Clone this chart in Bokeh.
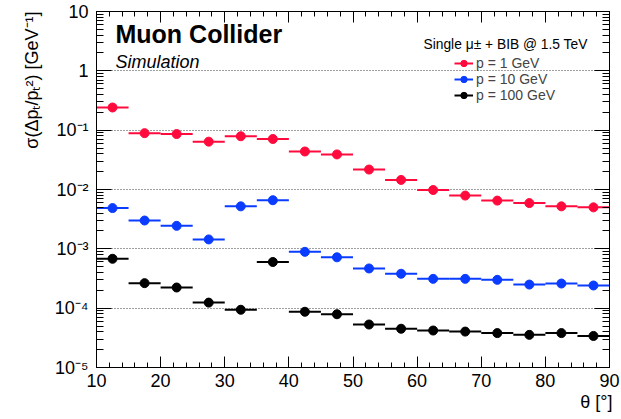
from bokeh.plotting import figure
from bokeh.models import (FixedTicker, LinearAxis, LogAxis, Label, Legend, LegendItem, Title,
                          ColumnDataSource, Range1d, CustomJSTickFormatter)
from bokeh.embed import file_html
from bokeh.resources import INLINE

# ---------------- data ----------------
theta = [12.5, 17.5, 22.5, 27.5, 32.5, 37.5, 42.5, 47.5,
         52.5, 57.5, 62.5, 67.5, 72.5, 77.5, 82.5, 87.5]
theta_half_width = 2.5

sigma_p1 = [0.241, 0.089, 0.086, 0.064, 0.079, 0.071, 0.0437, 0.039,
            0.0217, 0.0145, 0.0098, 0.0079, 0.0065, 0.0059, 0.0052, 0.0050]
sigma_p10 = [4.86e-3, 3.0e-3, 2.44e-3, 1.44e-3, 5.2e-3, 6.6e-3, 8.9e-4, 7.2e-4,
             4.67e-4, 3.8e-4, 3.12e-4, 3.12e-4, 3.0e-4, 2.5e-4, 2.6e-4, 2.41e-4]
sigma_p100 = [6.8e-4, 2.64e-4, 2.23e-4, 1.24e-4, 9.4e-5, 6.0e-4, 8.7e-5, 7.9e-5,
              5.3e-5, 4.5e-5, 4.2e-5, 4.03e-5, 3.8e-5, 3.55e-5, 3.8e-5, 3.4e-5]

series_labels = ["p = 1 GeV", "p = 10 GeV", "p = 100 GeV"]
series_colors = ["#ff0a3c", "#0a3cff", "#000000"]

x_ticks = [10, 20, 30, 40, 50, 60, 70, 80, 90]
x_minor_ticks = [v for v in range(10, 91, 2) if v % 10 != 0]
y_tick_exps = [-5, -4, -3, -2, -1, 0, 1]
y_tick_labels = ["10\u207b\u2075", "10\u207b\u2074", "10\u207b\u00b3", "10\u207b\u00b2",
                 "10\u207b\u00b9", "1", "10"]

x_title = "\u03b8 [\u00b0]"
y_title = "\u03c3(\u0394p\u209c/p\u209c\u00b2) [GeV\u207b\u00b9]"

FONT = "Liberation Sans"

# ---------------- figure ----------------
p = figure(width=621, height=419, y_axis_type="log",
           x_range=Range1d(10, 90), y_range=Range1d(1e-5, 10),
           output_backend="svg", toolbar_location=None,
           min_border_left=96, min_border_right=12, min_border_top=11, min_border_bottom=52)
p.background_fill_color = "white"
p.border_fill_color = "white"
p.outline_line_color = "black"
p.outline_line_width = 1

y_ticks = [10.0 ** e for e in y_tick_exps]
y_minor = [m * 10.0 ** e for e in y_tick_exps[:-1] for m in range(2, 10)]
xticker = FixedTicker(ticks=x_ticks, minor_ticks=x_minor_ticks)
yticker = FixedTicker(ticks=y_ticks, minor_ticks=y_minor)

yfmt = CustomJSTickFormatter(args=dict(labels=y_tick_labels, exps=y_tick_exps), code="""
const e = Math.round(Math.log10(tick));
const i = exps.indexOf(e);
return i >= 0 ? labels[i] : "";
""")
blank = CustomJSTickFormatter(code="return '';")


def style_axis(ax, tin, tmin):
    ax.axis_line_color = "black"
    ax.major_tick_line_color = "black"
    ax.minor_tick_line_color = "black"
    ax.major_tick_in = tin
    ax.major_tick_out = 0
    ax.minor_tick_in = tmin
    ax.minor_tick_out = 0
    ax.major_label_text_font = FONT
    ax.major_label_text_color = "black"


xa = p.xaxis[0]
xa.ticker = xticker
style_axis(xa, 11, 5)
xa.major_label_text_font_size = "18px"
xa.major_label_standoff = 6

ya = p.yaxis[0]
ya.ticker = yticker
ya.formatter = yfmt
style_axis(ya, 15, 7)
ya.major_label_text_font_size = "18px"
ya.major_label_standoff = 8

top = LinearAxis(ticker=xticker, formatter=blank, major_label_text_font_size="0px",
                 major_label_standoff=0)
style_axis(top, 11, 5)
p.add_layout(top, "above")

right = LogAxis(ticker=yticker, formatter=blank, major_label_text_font_size="0px",
                major_label_standoff=0)
style_axis(right, 15, 7)
p.add_layout(right, "right")

# axis titles, right/top aligned as in ROOT
p.add_layout(Title(text=x_title, align="right", offset=-3, standoff=0,
                   text_font=FONT, text_font_style="normal", text_font_size="18px",
                   text_color="black"), "below")
p.add_layout(Title(text=y_title, align="right", offset=0, standoff=19,
                   text_font=FONT, text_font_style="normal", text_font_size="18px",
                   text_color="black"), "left")

p.xgrid.visible = False
p.ygrid.ticker = FixedTicker(ticks=y_ticks)
p.ygrid.grid_line_color = "black"
p.ygrid.grid_line_alpha = 0.75
p.ygrid.grid_line_dash = "1 2"
p.ygrid.grid_line_width = 1

# ---------------- data marks ----------------
items = []
for vals, lab, col in zip([sigma_p1, sigma_p10, sigma_p100], series_labels, series_colors):
    src = ColumnDataSource(dict(
        x=theta, y=vals,
        x0=[t - theta_half_width for t in theta],
        x1=[t + theta_half_width for t in theta]))
    seg = p.segment(x0="x0", y0="y", x1="x1", y1="y", line_color=col, line_width=2, source=src)
    sc = p.scatter(x="x", y="y", size=9, marker="circle", fill_color=col, line_color=col, source=src)
    items.append(LegendItem(label=lab, renderers=[seg, sc]))

legend = Legend(items=items, location=(358, 264), glyph_width=19, glyph_height=16,
                label_height=16, spacing=0, padding=0, margin=0,
                border_line_color=None, background_fill_alpha=0,
                label_text_font_size="14px", label_text_font=FONT, label_standoff=3)
p.add_layout(legend)

# ---------------- texts ----------------
p.add_layout(Label(x=19, y=334, x_units="screen", y_units="screen", text="Muon Collider",
                   text_font=FONT, text_font_style="bold", text_font_size="25px",
                   text_align="left", text_baseline="middle", text_color="black"))
p.add_layout(Label(x=19, y=306, x_units="screen", y_units="screen", text="Simulation",
                   text_font=FONT, text_font_style="italic", text_font_size="18px",
                   text_align="left", text_baseline="middle", text_color="black"))
p.add_layout(Label(x=327, y=323, x_units="screen", y_units="screen",
                   text="Single \u03bc\u00b1 + BIB @ 1.5 TeV",
                   text_font=FONT, text_font_size="13.8px",
                   text_align="left", text_baseline="middle", text_color="black"))

open("out.html", "w").write(file_html(p, INLINE))
